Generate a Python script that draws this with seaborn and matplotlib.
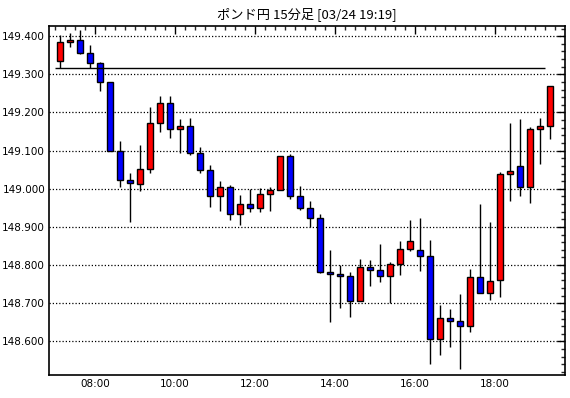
import matplotlib
matplotlib.use("Agg")
import matplotlib.pyplot as plt
from matplotlib.ticker import MultipleLocator, FuncFormatter
import seaborn as sns
import pandas as pd

# ---- data (GBP/JPY 15-minute candles) ----
start_time = "2025-03-24 07:00"
opens = [149.334, 149.384, 149.390, 149.355, 149.329, 149.279, 149.099, 149.023, 149.012, 149.051,
         149.172, 149.224, 149.156, 149.164, 149.093, 149.049, 148.982, 149.004, 148.933, 148.960,
         148.949, 148.986, 148.996, 149.086, 148.981, 148.949, 148.923, 148.783, 148.776, 148.771,
         148.705, 148.795, 148.787, 148.771, 148.802, 148.842, 148.839, 148.823, 148.606, 148.661,
         148.653, 148.640, 148.768, 148.726, 148.760, 149.038, 149.059, 149.004, 149.156, 149.164]
closes = [149.384, 149.390, 149.355, 149.329, 149.279, 149.099, 149.023, 149.014, 149.051, 149.172,
          149.224, 149.156, 149.164, 149.093, 149.049, 148.982, 149.004, 148.933, 148.960, 148.949,
          148.986, 148.996, 149.086, 148.981, 148.949, 148.923, 148.783, 148.776, 148.771, 148.705,
          148.795, 148.787, 148.771, 148.802, 148.842, 148.863, 148.823, 148.606, 148.661, 148.653,
          148.640, 148.768, 148.726, 148.758, 149.038, 149.047, 149.004, 149.156, 149.164, 149.269]
highs = [149.402, 149.409, 149.415, 149.376, 149.333, 149.279, 149.125, 149.042, 149.116, 149.215,
         149.244, 149.244, 149.182, 149.185, 149.109, 149.062, 149.021, 149.009, 148.983, 148.999,
         149.002, 149.004, 149.086, 149.091, 149.008, 148.968, 148.934, 148.840, 148.800, 148.782,
         148.816, 148.813, 148.856, 148.808, 148.863, 148.918, 148.923, 148.865, 148.696, 148.684,
         148.725, 148.789, 148.960, 148.912, 149.044, 149.172, 149.182, 149.163, 149.185, 149.269]
lows = [149.317, 149.371, 149.353, 149.317, 149.257, 149.099, 149.005, 148.912, 148.994, 149.042,
        149.150, 149.134, 149.095, 149.088, 149.042, 148.953, 148.943, 148.919, 148.905, 148.940,
        148.940, 148.943, 148.996, 148.974, 148.945, 148.899, 148.780, 148.652, 148.687, 148.664,
        148.705, 148.746, 148.757, 148.701, 148.775, 148.838, 148.784, 148.542, 148.565, 148.586,
        148.529, 148.624, 148.726, 148.709, 148.717, 148.969, 148.982, 148.964, 149.066, 149.131]
ref_level = 149.317
title = "ポンド円 15分足 [03/24 19:19]"
x_tick_labels = ["08:00", "10:00", "12:00", "14:00", "16:00", "18:00"]

times = pd.date_range(start_time, periods=len(opens), freq="15min")
df = pd.DataFrame({"time": times, "open": opens, "high": highs, "low": lows, "close": closes})
# x in hours, candle centred in its 15-minute slot
df["x"] = df["time"].dt.hour + df["time"].dt.minute / 60 + 7.5 / 60
df["up"] = df["close"] >= df["open"]

sns.set_theme(style="white")
plt.rcParams["font.family"] = ["DejaVu Sans"]

fig = plt.figure(figsize=(5.70, 3.98), dpi=100)
ax = fig.add_axes([49.3 / 570, 23 / 398, (564.5 - 49.3) / 570, (372.5 - 23) / 398])

# grid
ax.set_axisbelow(True)
ax.yaxis.grid(True, color="black", linestyle=(0, (1, 1.6)), linewidth=0.9)
ax.xaxis.grid(False)

# wicks
ax.vlines(df["x"], df["low"], df["high"], color="black", linewidth=1.0, zorder=2)
# bodies
body_w = 0.25 * 0.68
for up, color in [(True, "#ff0000"), (False, "#0000ff")]:
    sub = df[df["up"] == up]
    bottom = sub[["open", "close"]].min(axis=1)
    height = (sub["close"] - sub["open"]).abs().clip(lower=0.004)
    ax.bar(sub["x"], height, bottom=bottom, width=body_w, color=color,
           edgecolor="black", linewidth=1.0, zorder=3)

# reference horizontal line
ax.hlines(ref_level, 7.0, 19.25, color="black", linewidth=1.0, zorder=4)

ax.set_xlim(6.8575, 19.7375)
ax.set_ylim(148.512, 149.428)

ax.xaxis.set_minor_locator(MultipleLocator(0.25))
ax.set_xticks([8, 10, 12, 14, 16, 18])
ax.set_xticklabels(x_tick_labels)
ax.yaxis.set_major_locator(MultipleLocator(0.1))
ax.yaxis.set_minor_locator(MultipleLocator(0.02))
ax.yaxis.set_major_formatter(FuncFormatter(lambda v, p: f"{v:.3f}"))

ax.tick_params(axis="both", which="major", direction="in", length=6, width=1,
               top=True, right=True, labelsize=7.5, colors="black", pad=3)
ax.tick_params(axis="both", which="minor", direction="in", length=3, width=1,
               top=True, right=True)
for s in ax.spines.values():
    s.set_color("black")
    s.set_linewidth(1.2)
ax.set_xlabel("")
ax.set_ylabel("")

fig.text((49.3 + 564.5) / 2 / 570, 1 - 14 / 398, title, ha="center", va="center",
         fontsize=9.5, family=["Noto Sans CJK JP", "DejaVu Sans"], color="black")

fig.savefig("out.png", dpi=100, facecolor="white")
